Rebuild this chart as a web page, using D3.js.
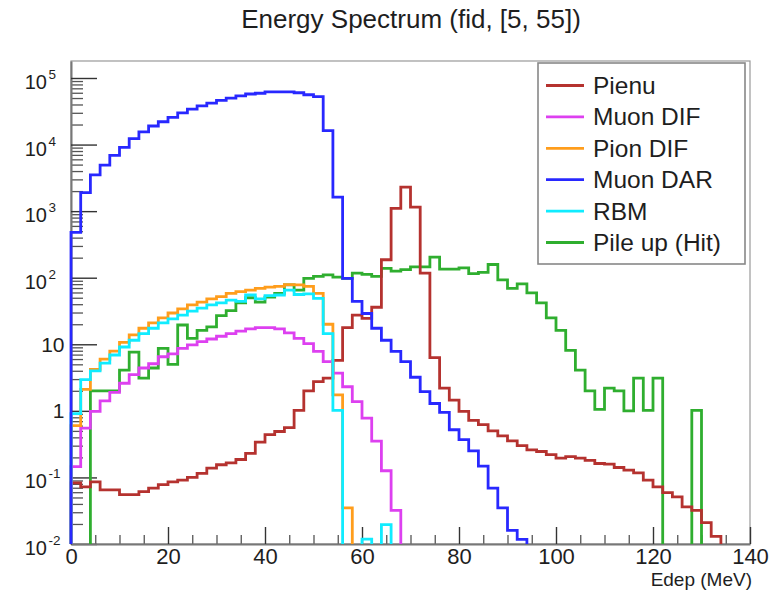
<!DOCTYPE html>
<html>
<head>
<meta charset="utf-8">
<script src="https://cdn.jsdelivr.net/npm/d3@7"></script>
<style>
body { margin: 0; background: #fff; overflow: hidden; }
text { font-family: "Liberation Sans", Arial, Helvetica, sans-serif; fill: #1e1e1e; }
</style>
</head>
<body>
<svg id="chart"></svg>
<script>
// bins: 2 MeV wide, lower edges
var binWidth = 2;
var binLow = [0,2,4,6,8,10,12,14,16,18,20,22,24,26,28,30,32,34,36,38,
    40,42,44,46,48,50,52,54,56,58,60,62,64,66,68,70,72,74,76,78,
    80,82,84,86,88,90,92,94,96,98,100,102,104,106,108,110,112,114,116,118,
    120,122,124,126,128,130,132,134,136,138];

// bin contents
var pienu = [0.083,0.072,0.086,0.065,0.065,0.055,0.055,0.061,0.069,0.078,
    0.086,0.091,0.10,0.115,0.138,0.155,0.166,0.186,0.23,0.34,
    0.44,0.49,0.56,1.02,2.0,2.75,3.1,5.75,17.8,27.5,
    24.5,36,186,1100,2290,1150,117,6.3,2.2,1.45,
    0.98,0.72,0.62,0.50,0.42,0.355,0.30,0.26,0.245,0.22,
    0.195,0.205,0.195,0.18,0.162,0.158,0.141,0.129,0.117,0.091,
    0.072,0.059,0.051,0.036,0.032,0.021,0.013,0,0,0];
var muonDIF = [0.145,0.55,0.98,1.41,1.9,2.6,3.5,4.4,5.1,6.5,
    7.2,8.7,9.8,11.0,12.0,13.2,14.5,15.8,17.0,17.8,
    17.8,17.0,14.8,12.3,10.2,7.8,5.5,3.7,2.3,1.38,
    0.78,0.35,0.126,0.032,0,0,0,0,0,0,
    0,0,0,0,0,0,0,0,0,0,
    0,0,0,0,0,0,0,0,0,0,
    0,0,0,0,0,0,0,0,0,0];
var pionDIF = [0.60,2.1,4.2,6.0,7.9,10.7,13.8,17.4,21,25,
    29.5,34,39,43,48,52,58,62,65,69,
    72,74,79,78,74,58,20,1.74,0.035,0,
    0,0,0,0,0,0,0,0,0,0,
    0,0,0,0,0,0,0,0,0,0,
    0,0,0,0,0,0,0,0,0,0,
    0,0,0,0,0,0,0,0,0,0];
var muonDAR = [480,1900,3500,4900,6900,9100,12300,15500,19000,22000,
    25700,30000,34000,38000,42000,46000,50000,54000,57500,59000,
    62000,62000,62000,60000,56000,52500,16200,1620,98,44,
    29,17.4,11.5,7.8,5.5,3.2,1.95,1.29,0.95,0.52,
    0.37,0.25,0.148,0.069,0.035,0.016,0.0117,0,0,0,
    0,0,0,0,0,0,0,0,0,0,
    0,0,0,0,0,0,0,0,0,0];
var rbm = [0.91,2.95,4.0,5.2,6.9,9.1,11.5,14.5,17.4,21,
    24,27.5,31.5,35,39,42,46,44,55,48,
    54,55,65,56,57,49,14.5,1.02,0,0,
    0.0118,0,0.0195,0,0,0,0,0,0,0,
    0,0,0,0,0,0,0,0,0,0,
    0,0,0,0,0,0,0,0,0,0,
    0,0,0,0,0,0,0,0,0,0];
var pileUp = [0,0,2.0,2.0,2.0,4.1,7.6,3.1,4.4,8.7,
    5.0,19.5,12.3,16.2,18.2,27,32,42,50,43,
    51,58,78,65,98,105,110,102,98,117,
    112,105,138,126,132,145,145,204,135,135,
    141,115,120,158,93,69,81,59,42,25,
    16.2,8.1,4.1,2.0,1.05,2.2,2.0,1.0,3.1,1.02,
    3.1,0,0,0,1.02,0,0,0,0,0];

// legend / series
var seriesNames = ["Pienu", "Muon DIF", "Pion DIF", "Muon DAR", "RBM", "Pile up (Hit)"];
var seriesValues = [pienu, muonDIF, pionDIF, muonDAR, rbm, pileUp];
var seriesColors = ["#b5322f", "#dd40f0", "#ff9d1c", "#2828ff", "#10ecff", "#2fae2f"];
var drawOrder = [5, 0, 1, 2, 4, 3];

// ticks
var xMajor = [0, 20, 40, 60, 80, 100, 120, 140];
var xMinor = [5,10,15,25,30,35,45,50,55,65,70,75,85,90,95,105,110,115,125,130,135];
var yMajor = [1e-2, 1e-1, 1, 10, 1e2, 1e3, 1e4, 1e5];
var yLabelBase = ["10", "10", "1", "10", "10", "10", "10", "10"];
var yLabelSup = ["-2", "-1", "", "", "2", "3", "4", "5"];

var svgWidth = 774, svgHeight = 590;
var plotLeft = 71, plotRight = 750, plotTop = 61, plotBottom = 544;

var svg = d3.select("#chart")
    .attr("width", svgWidth)
    .attr("height", svgHeight)
    .style("display", "block");

svg.append("rect").attr("width", svgWidth).attr("height", svgHeight).attr("fill", "#fff");

var x = d3.scaleLinear().domain([0, 140]).range([plotLeft, plotRight]);
var y = d3.scaleLog().domain([1e-2, 1.8e5]).range([plotBottom, plotTop]);

// frame
svg.append("rect")
    .attr("x", plotLeft).attr("y", plotTop)
    .attr("width", plotRight - plotLeft).attr("height", plotBottom - plotTop)
    .attr("fill", "none").attr("stroke", "#999").attr("stroke-width", 1.2);

// y minor ticks (2..9 per decade)
var yMinor = [];
yMajor.forEach(function(m) {
    for (var k = 2; k <= 9; k++) {
        if (m * k < 1.8e5) yMinor.push(m * k);
    }
});

var yMinorAxis = d3.axisLeft(y).tickValues(yMinor).tickSizeInner(-12).tickSizeOuter(0).tickFormat("");
svg.append("g").attr("transform", "translate(" + plotLeft + ",0)").call(yMinorAxis)
    .call(function(g) { g.select(".domain").remove(); })
    .selectAll("line").attr("stroke", "#555").attr("stroke-width", 1.3);

var yAxis = d3.axisLeft(y).tickValues(yMajor).tickSizeInner(-26).tickSizeOuter(0).tickFormat("");
var yG = svg.append("g").attr("transform", "translate(" + plotLeft + ",0)").call(yAxis);
yG.select(".domain").attr("stroke", "#777").attr("stroke-width", 2);
yG.selectAll(".tick line").attr("stroke", "#333").attr("stroke-width", 1.4);

// y labels, 10^n style
yMajor.forEach(function(v, i) {
    var ty = y(v);
    if (yLabelSup[i] === "") {
        svg.append("text").attr("x", 64.5).attr("y", ty + 7.5)
            .attr("text-anchor", "end").attr("font-size", 21)
            .text(yLabelBase[i]);
    } else {
        svg.append("text").attr("x", 47).attr("y", ty + 11)
            .attr("text-anchor", "end").attr("font-size", 20)
            .text(yLabelBase[i]);
        svg.append("text").attr("x", 48.5).attr("y", ty + 1)
            .attr("text-anchor", "start").attr("font-size", 13.5)
            .text(yLabelSup[i]);
    }
});

// x axis
var xMinorAxis = d3.axisBottom(x).tickValues(xMinor).tickSizeInner(-9).tickSizeOuter(0).tickFormat("");
svg.append("g").attr("transform", "translate(0," + plotBottom + ")").call(xMinorAxis)
    .call(function(g) { g.select(".domain").remove(); })
    .selectAll("line").attr("stroke", "#555").attr("stroke-width", 1.3);

var xAxis = d3.axisBottom(x).tickValues(xMajor).tickSizeInner(-17).tickSizeOuter(0).tickPadding(4)
    .tickFormat(d3.format("d"));
var xG = svg.append("g").attr("transform", "translate(0," + plotBottom + ")").call(xAxis);
xG.select(".domain").attr("stroke", "#777").attr("stroke-width", 2);
xG.selectAll(".tick line").attr("stroke", "#333").attr("stroke-width", 1.4);
xG.selectAll(".tick text").attr("font-size", 22).attr("fill", "#1e1e1e")
    .attr("font-family", "'Liberation Sans', Arial, Helvetica, sans-serif");

// clip for histograms
svg.append("clipPath").attr("id", "plotClip")
    .append("rect")
    .attr("x", plotLeft - 2).attr("y", plotTop - 2)
    .attr("width", plotRight - plotLeft + 4).attr("height", plotBottom - plotTop + 2);

// step outline of a histogram, zero bins drop below the axis
function stepPoints(vals) {
    var floor = 1e-4;
    var pts = [[binLow[0], floor]];
    vals.forEach(function(v, i) {
        var h = v > 0 ? v : floor;
        pts.push([binLow[i], h]);
        pts.push([binLow[i] + binWidth, h]);
    });
    pts.push([binLow[binLow.length - 1] + binWidth, floor]);
    return pts;
}

var line = d3.line()
    .x(function(d) { return x(d[0]); })
    .y(function(d) { return y(d[1]); });

var histG = svg.append("g").attr("clip-path", "url(#plotClip)");
drawOrder.forEach(function(s) {
    histG.append("path")
        .attr("d", line(stepPoints(seriesValues[s])))
        .attr("fill", "none")
        .attr("stroke", seriesColors[s])
        .attr("stroke-width", 2.8)
        .attr("stroke-linejoin", "miter");
});

// legend
var legend = svg.append("g");
legend.append("rect")
    .attr("x", 538).attr("y", 63).attr("width", 207).attr("height", 201)
    .attr("fill", "#fff").attr("stroke", "#888").attr("stroke-width", 1.6);

seriesNames.forEach(function(name, i) {
    var ly = 85.5 + i * 31.4;
    legend.append("line")
        .attr("x1", 546).attr("x2", 584).attr("y1", ly).attr("y2", ly)
        .attr("stroke", seriesColors[i]).attr("stroke-width", 2.8);
    legend.append("text")
        .attr("x", 593).attr("y", ly + 8.5)
        .attr("font-size", 24.5)
        .text(name);
});

// title and axis title
svg.append("text")
    .attr("x", 411).attr("y", 28)
    .attr("text-anchor", "middle").attr("font-size", 26)
    .text("Energy Spectrum (fid, [5, 55])");

svg.append("text")
    .attr("x", 752).attr("y", 585.5)
    .attr("text-anchor", "end").attr("font-size", 19)
    .text("Edep (MeV)");
</script>
</body>
</html>
